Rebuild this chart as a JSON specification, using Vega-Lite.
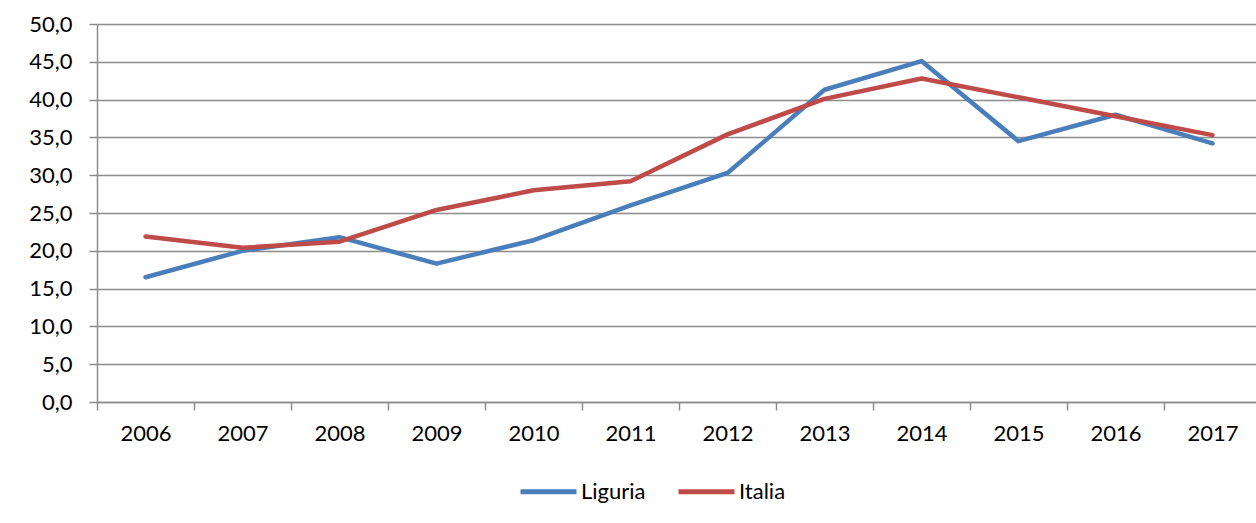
{
  "$schema": "https://vega.github.io/schema/vega-lite/v6.json",
  "autosize": "none",
  "width": 1159,
  "height": 378,
  "padding": {"left": 97, "top": 24, "right": 0, "bottom": 121},
  "background": "white",
  "config": {"view": {"stroke": null}, "font": "Lato"},
  "data": {"values": [
    {"year": "2006", "series": "Liguria", "value": 16.5},
    {"year": "2007", "series": "Liguria", "value": 20.0},
    {"year": "2008", "series": "Liguria", "value": 21.8},
    {"year": "2009", "series": "Liguria", "value": 18.3},
    {"year": "2010", "series": "Liguria", "value": 21.4},
    {"year": "2011", "series": "Liguria", "value": 26.0},
    {"year": "2012", "series": "Liguria", "value": 30.3},
    {"year": "2013", "series": "Liguria", "value": 41.3},
    {"year": "2014", "series": "Liguria", "value": 45.1},
    {"year": "2015", "series": "Liguria", "value": 34.5},
    {"year": "2016", "series": "Liguria", "value": 38.0},
    {"year": "2017", "series": "Liguria", "value": 34.2},
    {"year": "2006", "series": "Italia", "value": 21.9},
    {"year": "2007", "series": "Italia", "value": 20.4},
    {"year": "2008", "series": "Italia", "value": 21.2},
    {"year": "2009", "series": "Italia", "value": 25.4},
    {"year": "2010", "series": "Italia", "value": 28.0},
    {"year": "2011", "series": "Italia", "value": 29.2},
    {"year": "2012", "series": "Italia", "value": 35.4},
    {"year": "2013", "series": "Italia", "value": 40.1},
    {"year": "2014", "series": "Italia", "value": 42.8},
    {"year": "2015", "series": "Italia", "value": 40.3},
    {"year": "2016", "series": "Italia", "value": 37.8},
    {"year": "2017", "series": "Italia", "value": 35.3}
  ]},
  "mark": {"type": "line", "strokeWidth": 4.5, "strokeCap": "round", "strokeJoin": "round"},
  "encoding": {
    "x": {
      "field": "year", "type": "ordinal",
      "scale": {"type": "band", "range": [0, 1164], "paddingInner": 0, "paddingOuter": 0},
      "axis": {
        "title": null, "labelAngle": 0, "labelFontSize": 22, "labelColor": "#000000",
        "labelPadding": 13, "tickSize": 8, "tickColor": "#8c8c8c", "tickWidth": 1.5,
        "tickBand": "extent", "domainColor": "#8c8c8c", "domainWidth": 1.5, "grid": false
      }
    },
    "y": {
      "field": "value", "type": "quantitative",
      "scale": {"domain": [0, 50], "nice": false},
      "axis": {
        "title": null, "values": [0, 5, 10, 15, 20, 25, 30, 35, 40, 45, 50],
        "labelExpr": "replace(format(datum.value, '.1f'), '.', ',')",
        "labelFontSize": 22, "labelColor": "#000000", "labelPadding": 17,
        "tickSize": 8, "tickColor": "#8c8c8c", "tickWidth": 1.5,
        "domainColor": "#8c8c8c", "domainWidth": 1.5,
        "grid": true, "gridColor": "#8c8c8c", "gridWidth": 1.5
      }
    },
    "color": {
      "field": "series", "type": "nominal",
      "scale": {"domain": ["Liguria", "Italia"], "range": ["#4A7EBB", "#BE4B48"]},
      "legend": {
        "title": null, "orient": "none", "direction": "horizontal",
        "legendX": 421, "legendY": 437,
        "symbolType": "stroke", "symbolSize": 3136, "symbolStrokeWidth": 5,
        "labelFontSize": 22, "labelColor": "#000000", "labelOffset": 2, "columnPadding": 22
      }
    }
  }
}
